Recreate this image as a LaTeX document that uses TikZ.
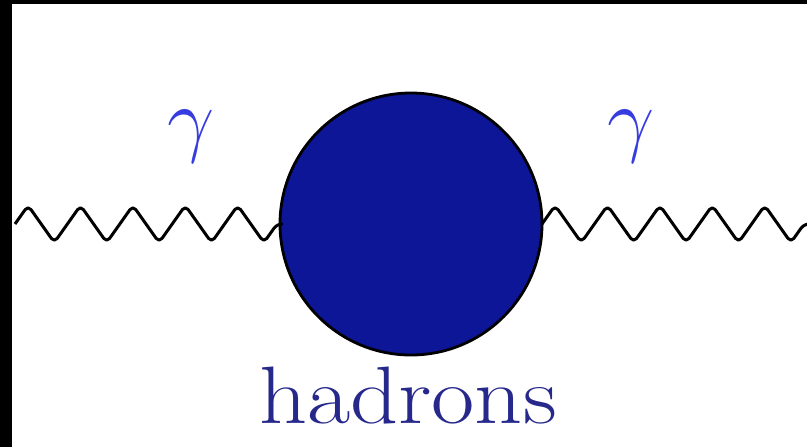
\RequirePackage{fix-cm}
\documentclass[tikz,border=0pt]{standalone}
\usetikzlibrary{decorations.pathmorphing}

\definecolor{blobblue}{RGB}{12,22,150}
\definecolor{hadronblue}{RGB}{38,40,140}
\definecolor{photonblue}{RGB}{55,60,225}

\begin{document}
\begin{tikzpicture}[x=0.5pt,y=0.5pt,
  photon/.style={black, line width=1.5pt, line join=round, rounded corners=2.5pt,
    decorate, decoration={zigzag, segment length=26.2pt, amplitude=9.25pt}},
  blobnode/.style={circle, fill=blobblue, draw=black, line width=1.4pt,
    minimum size=131pt, inner sep=0pt, outer sep=0pt},
  lbl/.style={anchor=base, inner sep=0pt, font=\fontsize{42}{50}\selectfont}]
\useasboundingbox (0,0) rectangle (807,447);
\fill[white] (0,0) rectangle (807,447);
\fill[black] (0,0) rectangle (12,447);
\fill[black] (0,443) rectangle (807,447);
\node[blobnode] (blob) at (411,223) {};
\coordinate (lin) at (15,223);
\coordinate (rout) at (808,223);
\draw[photon] (lin) -- (blob.west);
\draw[photon] (blob.east) -- (rout);
\node[lbl, text=photonblue] (gin) at (191,301) {$\gamma$};
\node[lbl, text=photonblue] (gout) at (631,301) {$\gamma$};
\node[lbl, text=hadronblue] (had) at (408,24) {\scalebox{1.12}[0.97]{hadrons}};
\end{tikzpicture}
\end{document}
